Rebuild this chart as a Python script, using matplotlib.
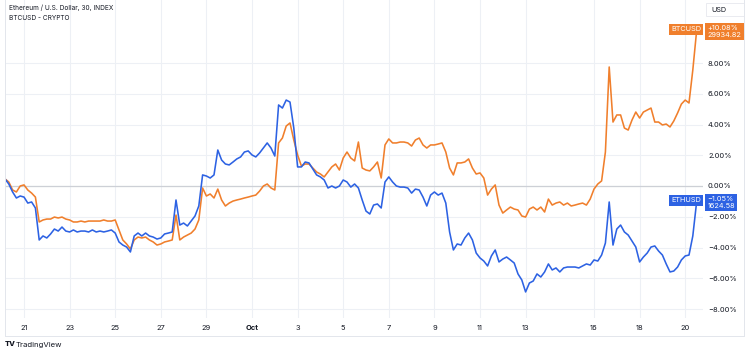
import numpy as np
import pandas as pd
import matplotlib
matplotlib.use("Agg")
import matplotlib.pyplot as plt
import matplotlib.dates as mdates
from matplotlib.patches import Rectangle
from matplotlib.lines import Line2D

plt.rcParams['font.family'] = ['Inter', 'DejaVu Sans']

# ---------------- data (percent change since start, 4h samples) ----------------
eth_pct = [
    0.46, 0.13, -0.39, -0.78, -0.65, -0.72, -1.11, -1.04, -1.43, -3.51,
    -3.25, -3.38, -3.12, -2.80, -2.93, -2.67, -2.93, -2.99, -2.86, -2.99,
    -2.93, -2.93, -2.99, -2.86, -2.99, -2.93, -2.99, -2.93, -2.86, -3.06,
    -3.64, -3.84, -3.97, -4.29, -3.25, -3.06, -3.25, -3.06, -3.25, -3.32,
    -3.45, -3.38, -3.12, -3.06, -2.99, -0.91, -2.54, -2.41, -2.60, -2.28,
    -1.95, -1.30, 0.72, 0.65, 0.52, 0.72, 2.34, 1.69, 1.43, 1.37,
    1.56, 1.76, 1.89, 2.21, 2.28, 2.02, 1.89, 2.15, 2.47, 2.80,
    2.47, 1.95, 5.27, 5.07, 5.59, 5.46, 3.77, 1.24, 1.24, 1.56,
    1.50, 1.11, 0.72, 0.59, 0.39, -0.13, 0.00, -0.13, 0.00, 0.39,
    0.26, -0.07, 0.13, -0.13, -0.91, -1.63, -1.82, -1.24, -1.17, -1.43,
    0.26, 0.59, 0.26, 0.00, -0.07, -0.07, -0.13, -0.46, -0.20, -0.26,
    -0.72, -1.30, -0.59, -0.39, -0.59, -0.46, -1.11, -2.99, -4.16, -3.77,
    -3.84, -3.38, -3.06, -3.51, -4.36, -4.68, -4.88, -5.20, -4.55, -4.16,
    -4.94, -4.75, -4.62, -4.81, -5.01, -5.72, -6.11, -6.89, -6.31, -6.18,
    -5.72, -5.92, -5.59, -5.07, -5.46, -5.33, -5.59, -5.33, -5.27, -5.27,
    -5.27, -5.33, -5.20, -5.07, -5.14, -4.81, -4.88, -4.49, -3.71, -1.04,
    -3.84, -2.80, -2.54, -2.99, -3.19, -3.58, -3.97, -4.94, -4.62, -4.36,
    -3.97, -3.90, -4.23, -4.49, -5.07, -5.59, -5.53, -5.27, -4.81, -4.55,
    -4.49, -3.25, -1.05,
]
btc_pct = [
    0.46, 0.26, -0.26, -0.39, 0.00, 0.07, -0.26, -0.46, -0.72, -2.34,
    -2.21, -2.15, -2.15, -2.02, -2.08, -2.02, -2.15, -2.21, -2.34, -2.34,
    -2.28, -2.34, -2.28, -2.28, -2.28, -2.28, -2.21, -2.28, -2.28, -2.21,
    -2.86, -3.51, -3.77, -4.10, -3.51, -3.32, -3.38, -3.32, -3.51, -3.64,
    -3.84, -3.77, -3.64, -3.58, -3.51, -1.89, -3.51, -3.32, -3.19, -3.06,
    -2.80, -2.21, -0.13, -0.65, -0.52, -0.78, -0.20, -0.91, -1.30, -1.11,
    -0.98, -0.91, -0.85, -0.78, -0.72, -0.65, -0.59, -0.33, 0.00, 0.13,
    -0.13, -0.26, 2.80, 3.12, 3.90, 4.10, 2.99, 2.02, 1.30, 1.43,
    1.43, 1.17, 0.91, 0.78, 0.59, 0.91, 1.24, 1.43, 1.04, 1.82,
    2.21, 1.82, 1.63, 2.86, 1.17, 1.04, 0.98, 1.24, 1.56, 0.52,
    2.67, 3.06, 2.80, 2.80, 2.86, 2.86, 2.80, 2.60, 2.99, 3.12,
    2.67, 2.47, 2.67, 2.67, 2.73, 2.80, 2.21, 1.17, 0.72, 1.50,
    1.50, 1.56, 1.76, 1.17, 0.78, 0.85, 0.52, -0.59, -0.20, 0.07,
    -1.24, -1.76, -1.56, -1.37, -1.50, -1.56, -1.95, -2.02, -1.50, -1.37,
    -1.56, -1.37, -1.69, -0.85, -1.24, -1.11, -1.04, -1.24, -1.11, -1.30,
    -1.24, -1.17, -1.11, -1.24, -0.85, -0.20, 0.13, 0.33, 2.21, 7.74,
    4.16, 4.62, 4.62, 3.77, 3.64, 4.29, 4.81, 4.42, 4.81, 4.94,
    5.07, 4.16, 4.16, 3.97, 4.03, 3.84, 4.23, 4.75, 5.33, 5.59,
    5.40, 7.54, 10.08,
]
start_time = "2023-09-20 04:00"
bar_freq = "4h"

tick_dates = ["2023-09-21", "2023-09-23", "2023-09-25", "2023-09-27", "2023-09-29",
              "2023-10-01", "2023-10-03", "2023-10-05", "2023-10-07", "2023-10-09",
              "2023-10-11", "2023-10-13", "2023-10-16", "2023-10-18", "2023-10-20"]
tick_labels = ["21", "23", "25", "27", "29", "Oct", "3", "5", "7", "9",
               "11", "13", "16", "18", "20"]
y_ticks = [8, 6, 4, 2, 0, -2, -4, -6, -8]

btc_name, eth_name = "BTCUSD", "ETHUSD"
btc_price, eth_price = "29934.82", "1624.58"
title1 = "Ethereum / U.S. Dollar, 30, INDEX"
title2 = "BTCUSD - CRYPTO"

# ---------------- styling ----------------
ORANGE = "#f07f2c"
BLUE = "#2d62e3"
TXT = "#131722"
GRID = "#edf0f5"

W, H = 750, 356
fig = plt.figure(figsize=(W / 100, H / 100), dpi=100)
fig.patch.set_facecolor("white")

# plot area in pixels: x 5..703, y 0..318 (from top)
ax = fig.add_axes([5 / W, (H - 318) / H, (703 - 5) / W, 318 / H])
ax.set_facecolor("white")

times = pd.date_range(start_time, periods=len(eth_pct), freq=bar_freq)
base = mdates.date2num(pd.Timestamp("2023-09-21"))
px_per_day = 22.8
ax.set_xlim(base + (5 - 24) / px_per_day, base + (703 - 24) / px_per_day)
px_per_pct = 15.375
ax.set_ylim((186 - 318) / px_per_pct, 186 / px_per_pct)

ax.plot(times, btc_pct, color=ORANGE, lw=1.15, zorder=3, solid_joinstyle="round")
ax.plot(times, eth_pct, color=BLUE, lw=1.15, zorder=4, solid_joinstyle="round")
ax.axhline(0, color="#cdd0d6", lw=0.9, zorder=2)

ax.set_xticks([pd.Timestamp(d) for d in tick_dates])
ax.set_xticklabels(tick_labels)
for lbl, txt in zip(ax.get_xticklabels(), tick_labels):
    if txt == "Oct":
        lbl.set_fontweight("bold")
ax.set_yticks(y_ticks)
ax.set_yticklabels([f"{v:.2f}%".replace("-", "\u2212") for v in y_ticks])
ax.yaxis.tick_right()
ax.tick_params(axis="both", length=0, labelsize=5.4, colors=TXT)
ax.tick_params(axis="x", pad=5.0)
ax.tick_params(axis="y", pad=3.6)
ax.grid(True, color=GRID, lw=0.8, zorder=0)
for s in ax.spines.values():
    s.set_visible(False)

# last-value labels
def last_labels(name, pct, price, color):
    last = pct[-1]
    ax.annotate(name, xy=(1, last), xycoords=("axes fraction", "data"),
                xytext=(-1.4, 1.2), textcoords="offset points", ha="right", va="center",
                color="white", fontsize=5.3, annotation_clip=False, zorder=10,
                bbox=dict(boxstyle="square,pad=0.3", fc=color, ec="none"))
    ax.annotate(f"{last:+.2f}%".replace("-", "\u2212") + "\n" + price,
                xy=(1, last), xycoords=("axes fraction", "data"),
                xytext=(3.2, 4.4), textcoords="offset points", ha="left", va="top",
                color="white", fontsize=5.3, linespacing=1.15, annotation_clip=False,
                zorder=10, bbox=dict(boxstyle="square,pad=0.3", fc=color, ec="none"))

last_labels(btc_name, btc_pct, btc_price, ORANGE)
last_labels(eth_name, eth_pct, eth_price, BLUE)

# titles
fig.text(9 / W, 1 - 7.5 / H, title1, fontsize=4.7, color=TXT, va="center", ha="left")
fig.text(9 / W, 1 - 18.5 / H, title2, fontsize=4.7, color=TXT, va="center", ha="left")

# USD box
fig.patches.append(Rectangle((706 / W, 1 - 16 / H), 38 / W, 13 / H, transform=fig.transFigure,
                             fc="white", ec="#e6e8ee", lw=0.6))
fig.text(711 / W, 1 - 9.5 / H, "USD", fontsize=5.2, color=TXT, va="center", ha="left")

# chart frame
bc = "#e3e6ec"
fig.add_artist(Line2D([5 / W, 5 / W], [1 - 336 / H, 1], transform=fig.transFigure, color=bc, lw=0.7))
fig.add_artist(Line2D([744 / W, 744 / W], [1 - 336 / H, 1], transform=fig.transFigure, color=bc, lw=0.7))
fig.add_artist(Line2D([5 / W, 744 / W], [1 - 336 / H, 1 - 336 / H], transform=fig.transFigure, color=bc, lw=0.7))

# TradingView attribution
fig.text(5 / W, 1 - 344.5 / H, "TV", fontsize=5.4, fontweight="heavy", color=TXT, va="center", ha="left")
fig.text(15.5 / W, 1 - 344.5 / H, "TradingView", fontsize=5.6, color=TXT, va="center", ha="left")

fig.savefig("out.png", dpi=100, facecolor="white")
